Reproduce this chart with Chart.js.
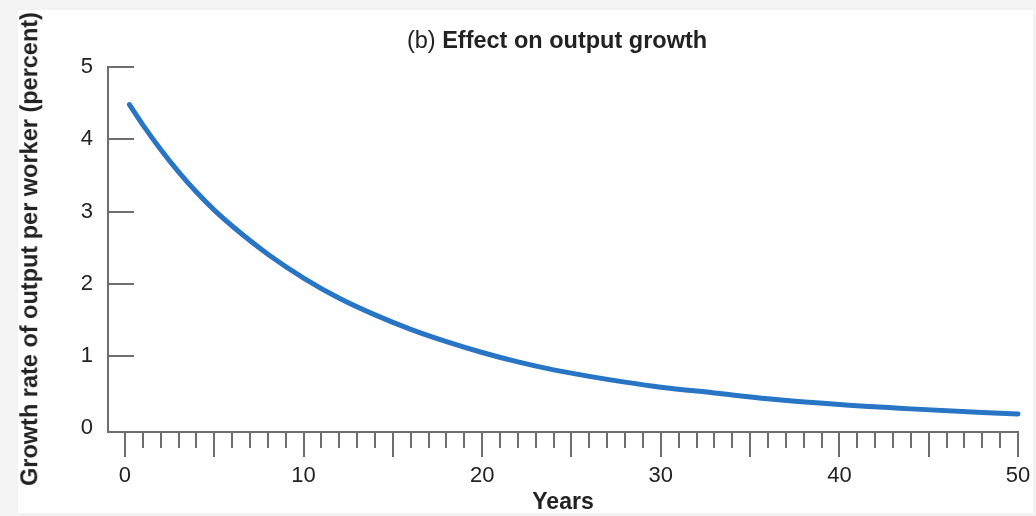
<!DOCTYPE html>
<html>
<head>
<meta charset="utf-8">
<title>Effect on output growth</title>
<script src="https://cdn.jsdelivr.net/npm/chart.js@4.4.1/dist/chart.umd.min.js"></script>
<style>
    html, body { margin: 0; padding: 0; }
    body {
        width: 1036px; height: 516px; position: relative; overflow: hidden;
        background: #f3f3f3; color: #222;
        font-family: "Liberation Sans", Arial, Helvetica, sans-serif;
    }
    #paper { position: absolute; left: 18px; top: 10px; width: 1015px; height: 503px; background: #fff; }
    #wrap { position: absolute; left: 0; top: 0; width: 1036px; height: 516px; }
    #heading {
        position: absolute; left: 557px; top: 29px; transform: translateX(-50%);
        font-size: 23.5px; line-height: 1; white-space: nowrap;
    }
    #yTitle {
        position: absolute; left: 30px; top: 249px;
        transform: translate(-50%, -50%) rotate(-90deg);
        font-size: 23.5px; font-weight: bold; line-height: 1; white-space: nowrap;
    }
</style>
</head>
<body>
<div id="paper"></div>
<div id="wrap"><canvas id="chart" width="1036" height="516"></canvas></div>
<div id="heading">(b) <b>Effect on output growth</b></div>
<div id="yTitle">Growth rate of output per worker (percent)</div>

<script>
// Data
const years      = [0.25, 1, 2, 3, 4, 5, 6, 8, 10, 12, 14, 16, 18, 20, 22, 24, 26, 28, 30, 33, 36, 40, 44, 48, 50];
const growthRate = [4.48, 4.20, 3.86, 3.55, 3.27, 3.02, 2.80, 2.41, 2.08, 1.80, 1.57, 1.37, 1.20, 1.05, 0.92, 0.81, 0.72, 0.64, 0.57, 0.49, 0.41, 0.33, 0.27, 0.22, 0.20];
const xTickLabels = [0, 10, 20, 30, 40, 50];
const yTickValues = [0, 1, 2, 3, 4, 5];

const AXIS_COLOR = '#6e6e6e';
const TEXT_COLOR = '#222';
const LINE_COLOR = '#2874c5';
const FONT = '"Liberation Sans", Arial, Helvetica, sans-serif';

// Draws the small tick marks: one per year below the x axis, and inward ticks on the y axis
const tickMarks = {
    id: 'tickMarks',
    beforeDatasetsDraw(chart) {
        const { ctx, chartArea, scales: { x, y } } = chart;
        ctx.save();
        ctx.strokeStyle = AXIS_COLOR;
        ctx.lineWidth = 2;
        ctx.beginPath();
        for (let yr = 0; yr <= 50; yr++) {
            const px = Math.round(x.getPixelForValue(yr));
            const len = yr % 5 === 0 ? 25 : 16;
            ctx.moveTo(px, chartArea.bottom);
            ctx.lineTo(px, chartArea.bottom + len);
        }
        yTickValues.forEach(v => {
            if (v === 0) return;
            const py = Math.round(y.getPixelForValue(v));
            ctx.moveTo(chartArea.left, py);
            ctx.lineTo(chartArea.left + 26, py);
        });
        ctx.stroke();
        ctx.restore();
    }
};

// keep the plot box exactly where the reference has it
const noEdgePadding = s => { s.paddingLeft = 0; s.paddingRight = 0; s.paddingTop = 0; s.paddingBottom = 0; };

new Chart(document.getElementById('chart'), {
    type: 'line',
    data: {
        datasets: [{
            data: years.map((yr, i) => ({ x: yr, y: growthRate[i] })),
            borderColor: LINE_COLOR,
            borderWidth: 5,
            borderCapStyle: 'round',
            pointRadius: 0,
            cubicInterpolationMode: 'monotone',
            clip: false
        }]
    },
    options: {
        responsive: false,
        animation: false,
        layout: { padding: { top: 67, right: 18, bottom: 0, left: 0 } },
        plugins: { legend: { display: false }, tooltip: { enabled: false } },
        scales: {
            x: {
                type: 'linear',
                min: -0.95, max: 50,
                afterBuildTicks: s => { s.ticks = xTickLabels.map(v => ({ value: v })); },
                afterFit: s => { s.height = 84; noEdgePadding(s); },
                grid: { display: false, drawTicks: false },
                border: { display: true, color: AXIS_COLOR, width: 2 },
                ticks: {
                    color: TEXT_COLOR, padding: 31, maxRotation: 0, autoSkip: false,
                    font: { family: FONT, size: 22 }
                },
                title: {
                    display: true, text: 'Years', color: TEXT_COLOR,
                    padding: { top: 0, bottom: 0 },
                    font: { family: FONT, size: 23, weight: 'bold' }
                }
            },
            y: {
                type: 'linear',
                min: -0.05, max: 5,
                afterBuildTicks: s => { s.ticks = yTickValues.map(v => ({ value: v })); },
                afterFit: s => { s.width = 108; noEdgePadding(s); },
                grid: { display: false, drawTicks: false },
                border: { display: true, color: AXIS_COLOR, width: 2 },
                ticks: {
                    color: TEXT_COLOR, padding: 15,
                    font: { family: FONT, size: 22 }
                }
            }
        }
    },
    plugins: [tickMarks]
});
</script>
</body>
</html>
